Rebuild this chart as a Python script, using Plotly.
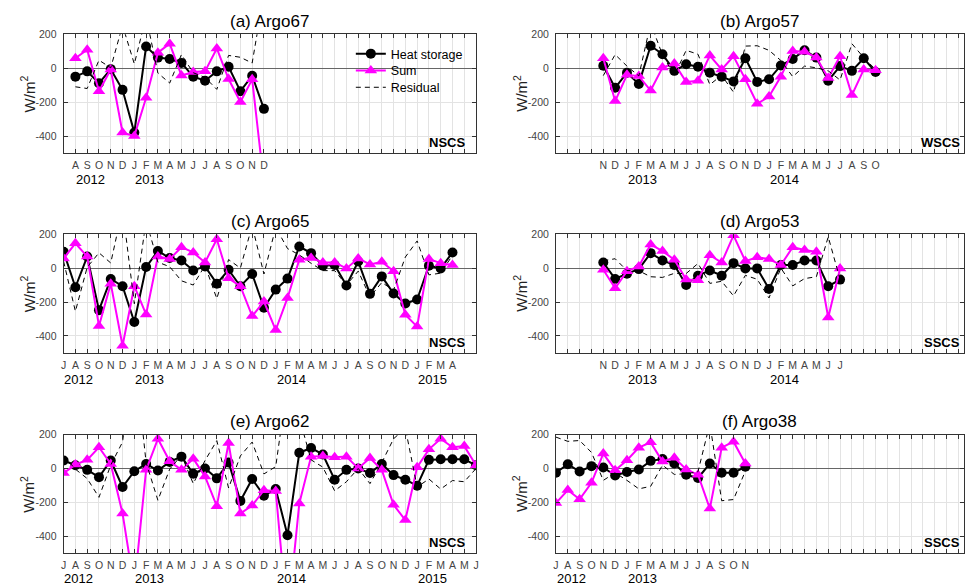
import plotly.graph_objects as go
from plotly.subplots import make_subplots

# ---------------- data ----------------
MONTH_LETTERS = ["J", "F", "M", "A", "M", "J", "J", "A", "S", "O", "N", "D"]
AXIS_START = (2012, 7)   # first month on every x axis (July 2012)
N_MONTHS = 36

# (a) Argo67
a_title = "(a) Argo67"
a_region = "NSCS"
a_start = (2012, 8)
a_years = ["2012", "2013"]
a_heat = [-50, -19, -89, -6, -128, -380, 128, 62, 54, 31, -50, -74, -19, 8, -136, -45, -240]
a_sum = [58, 109, -136, -8, -380, -400, -175, 91, 144, -43, -23, -19, 116, -64, -200, -66, -680]
a_resid = [-110, -120, 47, 2, 252, 25, 303, -29, -88, 80, -27, -55, -125, 75, 64, 30, 440]

# (b) Argo57
b_title = "(b) Argo57"
b_region = "WSCS"
b_start = (2012, 11)
b_years = ["2013", "2014"]
b_heat = [14, -116, -27, -93, 132, 82, -16, 23, 8, -27, -50, -78, 58, -81, -66, 16, 54, 105, 62, -74, 12, -16, 58, -23]
b_sum = [58, -194, -39, -47, -132, 4, 27, -81, -74, 74, -8, 70, -66, -210, -167, -50, 101, 97, 62, -58, 70, -159, -8, -12]
b_resid = [-44, 80, 12, -46, 264, 78, -43, 105, 82, -97, -42, -142, 130, 132, 105, 45, -50, 12, 2, -16, -70, 144, 62, -8]

# (c) Argo65
c_title = "(c) Argo65"
c_region = "NSCS"
c_start = (2012, 7)
c_years = ["2012", "2013", "2014", "2015"]
c_heat = [96, -113, 68, -248, -64, -107, -318, 6, 101, 59, 45, -14, 10, -92, -10, -107, -35, -234,
          -127, -62, 127, 88, 14, 18, -103, 39, -152, -49, -150, -209, -185, 14, -2, 92]
c_sum = [57, 146, 68, -341, -92, -458, -107, -273, 68, 53, 123, 92, 33, 170, -60, -107, -283, -197,
         -365, -176, 49, 60, 33, 33, -2, 57, 21, 37, -18, -275, -345, 53, 29, 18]
c_resid = [39, -255, 5, 90, 30, 350, -210, 280, 35, 8, -75, -100, 15, -180, 50, 0, 250, -35,
           240, 115, 78, 28, -15, -15, -100, -18, -170, -85, -130, 65, 160, -40, -30, 75]

# (d) Argo53
d_title = "(d) Argo53"
d_region = "SSCS"
d_start = (2012, 11)
d_years = ["2013", "2014"]
d_heat = [33, -64, -33, -6, 88, 45, 18, -100, -45, -14, -45, 29, -2, -2, -123, 18, 18, 45, 45, -107, -68]
d_sum = [-10, -119, -18, 10, 139, 100, 49, -68, -72, 76, 33, 193, 41, 64, 53, 18, 123, 107, 96, -291, -2]
d_resid = [43, 55, -15, -16, -51, -55, -31, -32, 27, -90, -78, -164, -43, -66, -176, 0, -105, -62, -51, 184, -66]

# (e) Argo62
e_title = "(e) Argo62"
e_region = "NSCS"
e_start = (2012, 7)
e_years = ["2012", "2013", "2014", "2015"]
e_heat = [47, 19, -8, -51, 47, -109, -16, 27, -12, 39, 70, -31, 0, -58, 35, -191, -62, -160,
          -121, -393, 93, 121, 82, -66, -8, 0, -27, 27, -39, -66, -101, 51, 54, 54, 54, 19]
e_sum = [-27, 23, 51, 125, 27, -265, -700, -8, 175, 43, -8, 58, -47, -222, 150, -265, -218, -128,
         -132, -900, -206, 70, 74, 66, 70, 0, 62, -8, -214, -304, 8, 113, 175, 125, 132, 19]
e_resid = [74, -4, -59, -170, 20, 156, 684, 35, -187, -4, 78, -89, 47, 164, -115, 74, 156, -32,
           11, 507, 299, 51, 8, -132, -78, 0, -89, 35, 175, 238, -109, -62, -121, -71, -78, 0]

# (f) Argo38
f_title = "(f) Argo38"
f_region = "SSCS"
f_start = (2012, 7)
f_years = ["2012", "2013"]
f_heat = [-25, 25, -18, 14, 6, -41, -21, -6, 45, 56, 29, -37, -56, 29, -25, -25, 10]
f_sum = [-204, -127, -181, -84, 88, -10, 49, 123, 154, 41, 64, -6, -37, -236, 123, 158, 29]
f_resid = [185, 160, 165, 95, -70, -25, -70, -120, -105, 20, -35, -31, -19, 265, -190, -183, -15]

Y_TICKS = [-400, -200, 0, 200]
Y_RANGE = [-500, 200]

panels = [
    (a_title, a_region, a_start, a_years, a_heat, a_sum, a_resid),
    (b_title, b_region, b_start, b_years, b_heat, b_sum, b_resid),
    (c_title, c_region, c_start, c_years, c_heat, c_sum, c_resid),
    (d_title, d_region, d_start, d_years, d_heat, d_sum, d_resid),
    (e_title, e_region, e_start, e_years, e_heat, e_sum, e_resid),
    (f_title, f_region, f_start, f_years, f_heat, f_sum, f_resid),
]


def month_index(ym):
    return (ym[0] - AXIS_START[0]) * 12 + (ym[1] - AXIS_START[1])


# ---------------- layout geometry (pixels) ----------------
W, H = 967, 586
FONT = "Liberation Sans, Arial, Helvetica, sans-serif"
col_px = [(61, 476), (556.4, 967)]
col_range = [[0, 35], [0, 34.47]]
row_px = [(28.5, 148.5), (230.5, 350.5), (433, 553)]


def px_x(p):
    return p / W


def px_y(p):
    return 1 - p / H


fig = make_subplots(rows=3, cols=2)

HEAT_COLOR = "black"
SUM_COLOR = "#ff00ff"
GRID = "#e3e3e3"
AXC = "#333"
annotations = []

for k, (title, region, start, years, heat, summ, resid) in enumerate(panels):
    r, c = k // 2, k % 2
    s = month_index(start)
    xs = [s + i for i in range(len(heat))]
    first = k == 0
    fig.add_trace(go.Scatter(x=xs, y=heat, mode="lines+markers", name="Heat storage",
                             line=dict(color=HEAT_COLOR, width=2),
                             marker=dict(symbol="circle", size=10, color=HEAT_COLOR),
                             showlegend=first, legend="legend"), row=r + 1, col=c + 1)
    fig.add_trace(go.Scatter(x=xs, y=summ, mode="lines+markers", name="Sum",
                             line=dict(color=SUM_COLOR, width=2),
                             marker=dict(symbol="triangle-up", size=11, color=SUM_COLOR),
                             showlegend=first, legend="legend2"), row=r + 1, col=c + 1)
    fig.add_trace(go.Scatter(x=xs, y=resid, mode="lines", name="Residual",
                             line=dict(color="black", width=1, dash="5px,4px"),
                             showlegend=first, legend="legend3"), row=r + 1, col=c + 1)

    # month letters only where data exist
    tickvals, ticktext = [], []
    for m in range(s, s + len(heat)):
        cal = (AXIS_START[1] - 1 + m) % 12
        tickvals.append(m)
        ticktext.append(MONTH_LETTERS[cal])

    ax = k + 1
    xname = "xaxis" if ax == 1 else f"xaxis{ax}"
    yname = "yaxis" if ax == 1 else f"yaxis{ax}"
    x0, x1 = col_px[c]
    yt, yb = row_px[r]
    fig.layout[xname].update(
        domain=[px_x(x0), min(px_x(x1), 1.0)], range=col_range[c],
        tickmode="array", tickvals=tickvals, ticktext=ticktext,
        ticks="inside", ticklen=4, tickcolor=AXC, tickwidth=1,
        minor=dict(tickmode="linear", tick0=0, dtick=1, ticks="inside", ticklen=4,
                   tickcolor=AXC, showgrid=True, gridcolor=GRID, gridwidth=1),
        showline=True, linecolor=AXC, linewidth=1, mirror="ticks",
        showgrid=True, gridcolor=GRID, gridwidth=1, zeroline=False,
        tickfont=dict(family=FONT, size=10.5, color="#444"), tickangle=0,
        ticklabelstandoff=2,
    )
    fig.layout[yname].update(
        domain=[px_y(yb), px_y(yt)], range=Y_RANGE,
        tickmode="array", tickvals=Y_TICKS, ticktext=[str(v) for v in Y_TICKS],
        ticks="inside", ticklen=4, tickcolor=AXC,
        showline=True, linecolor=AXC, linewidth=1, mirror="ticks",
        showgrid=True, gridcolor=GRID, gridwidth=1,
        zeroline=True, zerolinecolor="#666", zerolinewidth=1,
        tickfont=dict(family=FONT, size=10.5, color="#444"),
        ticklabelstandoff=4,
    )

    xref = "x" if ax == 1 else f"x{ax}"
    # panel title
    annotations.append(dict(text=title, x=px_x((x0 + min(x1, 971)) / 2),
                            y=px_y(yt - 13), xref="paper", yref="paper",
                            showarrow=False, xanchor="center", yanchor="middle",
                            font=dict(family=FONT, size=17, color="black")))
    # y label
    annotations.append(dict(text="W/m<sup>2</sup>", x=px_x(x0 - 36), y=px_y((yt + yb) / 2),
                            xref="paper", yref="paper", showarrow=False, textangle=-90,
                            xanchor="center", yanchor="middle",
                            font=dict(family=FONT, size=15, color="#222")))
    # region label
    rx = 467 if c == 0 else 965
    annotations.append(dict(text=f"<b>{region}</b>", x=px_x(rx), y=px_y(yb - 11),
                            xref="paper", yref="paper", showarrow=False,
                            xanchor="right", yanchor="middle",
                            font=dict(family=FONT, size=13, color="black")))
    # year labels
    for yr in years:
        jan = month_index((int(yr), 1))
        pos = max(jan, s) + 1.3
        annotations.append(dict(text=yr, x=pos, y=px_y(min(yb + 27, 578.5)), xref=xref, yref="paper",
                                showarrow=False, xanchor="center", yanchor="middle",
                                font=dict(family=FONT, size=13, color="black")))

legend_common = dict(x=px_x(350), xanchor="left", yanchor="middle",
                     bgcolor="rgba(0,0,0,0)", borderwidth=0, itemwidth=30,
                     font=dict(family=FONT, size=12.5, color="black"))

fig.update_layout(
    width=W, height=H,
    margin=dict(l=0, r=0, t=0, b=0),
    paper_bgcolor="white", plot_bgcolor="white",
    annotations=annotations,
    showlegend=True,
    legend=dict(y=px_y(48.5), **legend_common),
    legend2=dict(y=px_y(65.5), **legend_common),
    legend3=dict(y=px_y(82.5), **legend_common),
)

post = ("var gd=document.getElementById('{plot_id}');"
        "document.body.style.margin='0';document.body.style.padding='0';"
        "gd.style.position='absolute';gd.style.left='0px';gd.style.top='0px';")
fig.write_html("out.html", post_script=post, config={"displayModeBar": False})
